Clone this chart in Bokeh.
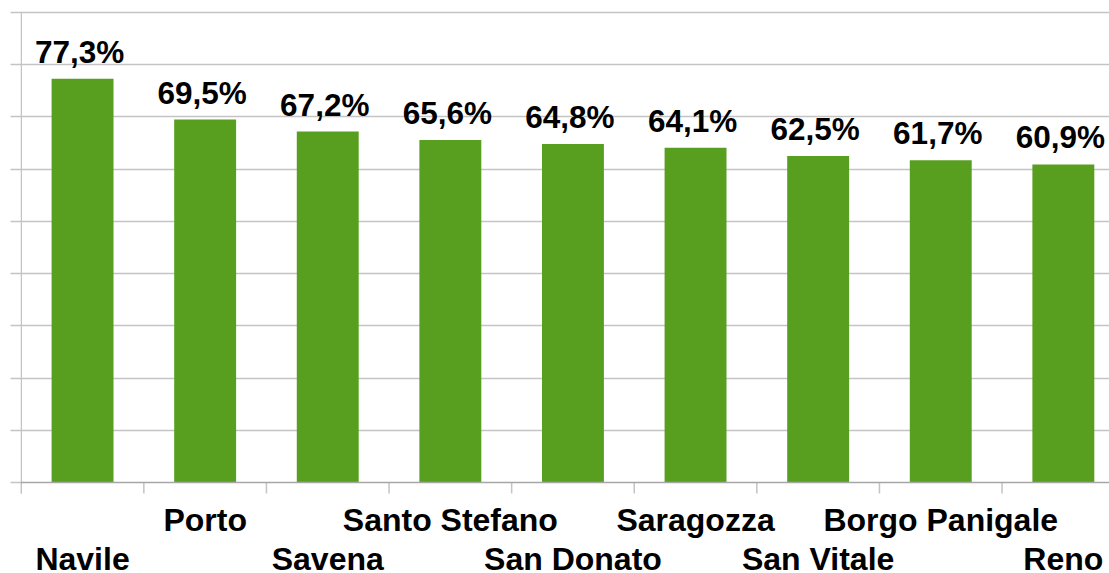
from bokeh.plotting import figure
from bokeh.models import ColumnDataSource, FixedTicker, Range1d, Span
from bokeh.core.properties import value
from bokeh.embed import file_html
from bokeh.resources import INLINE

categories = ["Navile", "Porto", "Savena", "Santo Stefano", "San Donato",
              "Saragozza", "San Vitale", "Borgo Panigale", "Reno"]
values = [77.3, 69.5, 67.2, 65.6, 64.8, 64.1, 62.5, 61.7, 60.9]
y_ticks = [0, 10, 20, 30, 40, 50, 60, 70, 80, 90]

BAR = "#589E1F"
FONT = "Liberation Sans"
GRID = "#C4C4C4"

W, H = 1109, 573
LEFT, TOP = 20, 10
PX_PER_UNIT = 470 / 90.0          # vertical pixels per percentage point
CAT_PX = 122.6                    # horizontal pixels per category

n = len(categories)
xs = list(range(n))
labels = [f"{v:.1f}%".replace(".", ",") for v in values]
row_off = [76 if i % 2 == 0 else 37 for i in xs]   # staggered label rows (px below baseline)

src = ColumnDataSource(dict(x=xs, v=values, lab=labels, cat=categories,
                            base=[0] * n, off=row_off))

x_start = -0.5 - 0.75 / CAT_PX
x_end = x_start + (W - LEFT) / CAT_PX
y_end = 90 + 2 / PX_PER_UNIT
y_start = y_end - (H - TOP) / PX_PER_UNIT

p = figure(width=W, height=H, output_backend="svg", toolbar_location=None,
           x_range=Range1d(x_start, x_end), y_range=Range1d(y_start, y_end),
           min_border_left=LEFT, min_border_right=0, min_border_top=TOP,
           min_border_bottom=0)
p.outline_line_color = None
p.background_fill_color = "white"
p.xaxis.visible = False
p.xgrid.grid_line_color = None

p.ygrid.ticker = FixedTicker(ticks=y_ticks[1:])
p.ygrid.grid_line_color = GRID
p.ygrid.grid_line_width = 1.5

# y axis: tick marks only
p.yaxis.ticker = FixedTicker(ticks=y_ticks)
p.yaxis.major_label_text_color = None
p.yaxis.major_label_text_font_size = "0px"
p.yaxis.major_label_standoff = 0
p.yaxis.major_tick_out = 10
p.yaxis.major_tick_in = 1
p.yaxis.minor_tick_line_color = None
p.yaxis.axis_line_color = None
p.yaxis.major_tick_line_color = GRID
p.yaxis.major_tick_line_width = 1.5

# category boundary tick marks and left axis line
tick_len = 11 / PX_PER_UNIT
bx = [i - 0.5 for i in range(n + 1)]
p.segment(x0=bx, y0=[0] * len(bx), x1=bx, y1=[-tick_len] * len(bx),
          line_color=GRID, line_width=1.5)
p.segment(x0=[-0.5], y0=[-tick_len], x1=[-0.5], y1=[90],
          line_color=GRID, line_width=1.5)

p.vbar(x="x", top="v", width=0.505, source=src, fill_color=BAR, line_color=None)

# baseline
p.add_layout(Span(location=0, dimension="width", line_color="#A6A6A6", line_width=1.5))

p.text(x="x", y="v", text="lab", source=src, text_align="center",
       text_baseline="middle", x_offset=-3, y_offset=-27,
       text_font=value(FONT), text_font_style="bold", text_font_size="31.5px",
       text_color="black")

p.text(x="x", y="base", text="cat", source=src, text_align="center",
       text_baseline="middle", y_offset="off",
       text_font=value(FONT), text_font_style="bold", text_font_size="32px",
       text_color="black")

open("out.html", "w").write(file_html(p, INLINE))
